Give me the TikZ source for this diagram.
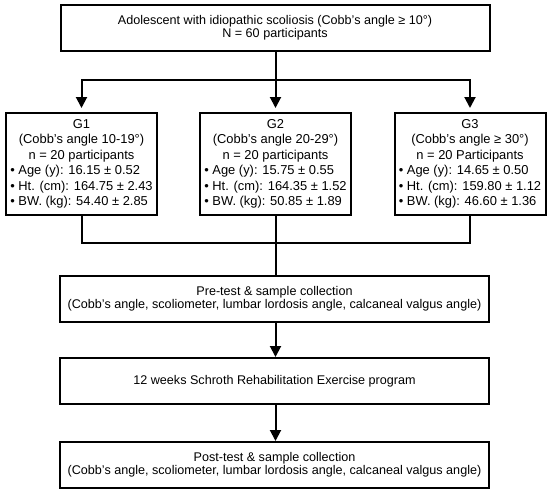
\documentclass[tikz,border=0pt]{standalone}
\usepackage{fontspec}
\setmainfont{Liberation Sans}[Ligatures=ResetAll]
\usetikzlibrary{arrows.meta}
\newcommand\mcline[1]{\multicolumn{1}{@{}c@{}}{#1}}
\begin{document}
\begin{tikzpicture}[x=1pt,y=-1pt,
  box/.style={draw,line width=2pt,inner sep=0pt,align=center,
    font=\fontsize{12.6}{13.3}\selectfont},
  wide/.style={box,minimum width=429pt,minimum height=46pt},
  grp/.style={box,minimum width=151pt,minimum height=102pt,
    font=\fontsize{12.9}{15.5}\selectfont},
  conn/.style={line width=2pt},
  arr/.style={conn,-{Triangle[width=11pt,length=11pt]}},
  garr/.style={arr,shorten >=4pt}
]
\useasboundingbox (0,0) rectangle (550,493);
\node[wide] (top) at (275,28) {Adolescent with idiopathic scoliosis (Cobb's angle ≥ 10°)\\N = 60 participants};
\node[grp] (g1) at (81.5,164) {\begin{tabular}{@{}l@{}}
\mcline{G1}\\
\mcline{(Cobb's angle 10-19°)}\\
\mcline{n = 20 participants}\\
• Age (y): 16.15 ± 0.52\\
• Ht. (cm): 164.75 ± 2.43\\
• BW. (kg): 54.40 ± 2.85
\end{tabular}};
\node[grp] (g2) at (275.5,164) {\begin{tabular}{@{}l@{}}
\mcline{G2}\\
\mcline{(Cobb's angle 20-29°)}\\
\mcline{n = 20 participants}\\
• Age (y): 15.75 ± 0.55\\
• Ht. (cm): 164.35 ± 1.52\\
• BW. (kg): 50.85 ± 1.89
\end{tabular}};
\node[grp] (g3) at (470,164) {\begin{tabular}{@{}l@{}}
\mcline{G3}\\
\mcline{(Cobb's angle ≥ 30°)}\\
\mcline{n = 20 Participants}\\
• Age (y): 14.65 ± 0.50\\
• Ht. (cm): 159.80 ± 1.12\\
• BW. (kg): 46.60 ± 1.36
\end{tabular}};
\node[wide] (pre) at (274.5,298.5) {Pre-test \& sample collection\\(Cobb’s angle, scoliometer, lumbar lordosis angle, calcaneal valgus angle)};
\node[wide] (prog) at (274.5,381) {12 weeks Schroth Rehabilitation Exercise program};
\node[wide] (post) at (274.5,465) {Post-test \& sample collection\\(Cobb’s angle, scoliometer, lumbar lordosis angle, calcaneal valgus angle)};
\coordinate (split) at (275.5,80);
\coordinate (merge) at (275.5,243);
\draw[garr] (top.south -| g2.north) -- (g2.north);
\draw[garr] (split) -| (g1.north);
\draw[garr] (split) -| (g3.north);
\draw[conn] (g1.south) |- (merge);
\draw[conn] (g3.south) |- (merge);
\draw[conn] (g2.south) -- (pre.north -| g2.south);
\draw[arr] (pre.south -| g2.south) -- (prog.north -| g2.south);
\draw[arr] (prog.south -| g2.south) -- (post.north -| g2.south);
\end{tikzpicture}
\end{document}
